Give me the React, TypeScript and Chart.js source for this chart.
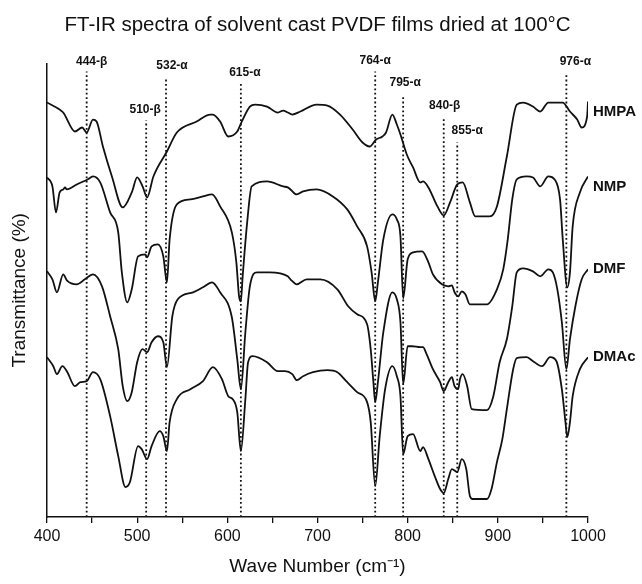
import React, { useEffect, useRef } from 'react';
import { Chart, registerables } from 'chart.js';

Chart.register(...registerables);

const TITLE = 'FT-IR spectra of solvent cast PVDF films dried at 100°C';
const X_TITLE = 'Wave Number (cm⁻¹)';
const Y_TITLE = 'Transmittance (%)';
const X_MIN = 400;
const X_MAX = 1000;
const X_TICKS = [400, 450, 500, 550, 600, 650, 700, 750, 800, 850, 900, 950, 1000];
const X_TICK_LABELS = ['400', '', '500', '', '600', '', '700', '', '800', '', '900', '', '1000'];
const Y_MIN = 0;
const Y_MAX = 454; // arbitrary transmittance units (offset spectra)

const SERIES_NAMES = ['HMPA', 'NMP', 'DMF', 'DMAc'];

const HMPA_WN = [400, 414, 418, 431, 439, 444, 451, 455, 462, 472, 484, 494, 500, 506, 511, 518, 533, 544, 566, 581, 584, 592, 601, 611, 616, 625, 631, 644, 656, 662, 667, 672, 681, 699, 711, 725, 739, 750, 758, 765, 772, 776, 783, 788, 792, 799, 806, 814, 817, 823, 833, 840, 847, 855, 861, 869, 875, 891, 899, 910, 921, 928, 939, 947, 956, 972, 980, 988, 993, 999, 1000];
const HMPA_T = [415, 408, 405, 386, 390, 385, 398, 396, 371, 341, 310, 325, 340, 331, 320, 341, 366, 385, 396, 403, 403, 396, 381, 386, 396, 411, 413, 411, 405, 407, 405, 403, 406, 413, 412, 403, 388, 375, 371, 378, 381, 385, 403, 393, 383, 363, 350, 335, 336, 330, 311, 302, 315, 333, 335, 315, 301, 301, 311, 361, 413, 415, 411, 406, 415, 415, 406, 398, 390, 401, 416];

const NMP_WN = [400, 406, 410, 414, 418, 420, 422, 433, 445, 451, 459, 470, 479, 483, 489, 494, 501, 509, 511, 516, 523, 529, 533, 536, 544, 559, 573, 583, 592, 605, 610, 613, 615, 617, 622, 627, 644, 662, 667, 670, 677, 684, 699, 717, 733, 744, 755, 760, 764, 767, 773, 783, 788, 792, 795, 800, 806, 816, 823, 828, 838, 845, 849, 852, 856, 860, 864, 869, 888, 899, 906, 911, 916, 921, 932, 939, 947, 956, 963, 969, 972, 977, 980, 983, 991, 1000];
const NMP_T = [340, 331, 305, 325, 328, 330, 328, 333, 338, 341, 335, 305, 285, 245, 215, 228, 261, 263, 260, 271, 273, 261, 235, 278, 313, 318, 321, 323, 311, 285, 255, 221, 216, 241, 295, 331, 336, 331, 330, 328, 323, 326, 328, 321, 308, 291, 271, 245, 216, 235, 278, 303, 298, 281, 219, 258, 265, 266, 255, 243, 233, 231, 232, 225, 221, 226, 223, 213, 213, 228, 248, 278, 318, 338, 341, 340, 331, 341, 338, 318, 278, 230, 245, 291, 325, 341];

const DMF_WN = [400, 406, 411, 418, 422, 433, 442, 451, 461, 470, 479, 484, 489, 494, 500, 506, 511, 516, 523, 529, 533, 539, 545, 562, 573, 583, 592, 605, 611, 615, 620, 625, 633, 647, 667, 670, 677, 688, 703, 722, 734, 744, 755, 759, 762, 764, 767, 773, 783, 788, 792, 795, 800, 805, 814, 817, 821, 828, 836, 840, 845, 849, 852, 856, 858, 861, 866, 871, 888, 895, 902, 910, 916, 921, 928, 939, 947, 956, 961, 966, 971, 976, 980, 986, 993, 1000];
const DMF_T = [246, 238, 225, 243, 237, 233, 238, 243, 231, 201, 168, 131, 116, 125, 155, 168, 165, 175, 181, 175, 150, 201, 218, 225, 230, 235, 225, 200, 158, 128, 185, 231, 245, 245, 241, 238, 233, 238, 238, 228, 211, 203, 193, 168, 135, 115, 135, 185, 225, 218, 195, 133, 171, 171, 170, 170, 163, 148, 135, 126, 135, 140, 131, 128, 138, 143, 131, 108, 107, 121, 155, 178, 211, 245, 249, 246, 241, 248, 245, 228, 195, 148, 178, 211, 238, 248];

const DMAC_WN = [400, 407, 411, 417, 422, 431, 437, 444, 451, 459, 470, 479, 487, 492, 501, 505, 511, 516, 525, 529, 533, 536, 544, 559, 573, 584, 594, 601, 606, 611, 615, 620, 623, 628, 644, 656, 664, 672, 677, 684, 695, 711, 722, 733, 744, 755, 759, 764, 769, 775, 783, 788, 792, 795, 800, 806, 814, 817, 823, 830, 836, 840, 845, 849, 855, 860, 865, 869, 872, 888, 893, 899, 905, 910, 917, 921, 932, 939, 949, 958, 965, 971, 975, 977, 980, 983, 991, 1000];
const DMAC_T = [160, 151, 143, 151, 146, 131, 135, 136, 145, 138, 101, 61, 30, 35, 71, 68, 58, 71, 86, 81, 66, 95, 118, 128, 136, 150, 138, 121, 118, 105, 66, 118, 155, 161, 155, 146, 146, 143, 137, 141, 145, 147, 145, 135, 125, 115, 95, 31, 81, 128, 151, 141, 121, 63, 81, 83, 66, 70, 58, 41, 28, 24, 38, 48, 45, 58, 48, 21, 18, 18, 28, 55, 78, 108, 148, 159, 160, 156, 151, 160, 156, 128, 95, 80, 95, 121, 148, 160];

const PEAK_WN = [444, 510, 532, 615, 764, 795, 840, 855, 976];
const PEAK_LABELS = ['444-β', '510-β', '532-α', '615-α', '764-α', '795-α', '840-β', '855-α', '976-α'];
const PEAK_LINE_TOP = [446, 397, 438, 435, 446, 423, 401, 375, 445];

// label placement (layout only)
const PEAK_LABEL_Y = [456, 408, 452, 445, 457, 435, 412, 387, 456];
const PEAK_LABEL_DX = [5, -1, 6, 4, 0, 2, 1, 10, 9];
const SERIES_LABEL_Y = [406, 331, 248, 160];

const FONT = '"Liberation Sans", Arial, Helvetica, sans-serif';
const INK = '#111111';

const toPoints = (xs: number[], ys: number[]) => xs.map((x, i) => ({ x, y: ys[i] }));

const labelPlugin = {
  id: 'ftirLabels',
  afterDatasetsDraw(chart: any) {
    const { ctx, chartArea, scales } = chart;
    const xs = scales.x;
    const ys = scales.y;
    ctx.save();
    ctx.fillStyle = INK;
    ctx.font = `bold 12px ${FONT}`;
    ctx.textAlign = 'center';
    ctx.textBaseline = 'middle';
    PEAK_WN.forEach((wn, i) => {
      ctx.fillText(PEAK_LABELS[i], xs.getPixelForValue(wn) + PEAK_LABEL_DX[i], ys.getPixelForValue(PEAK_LABEL_Y[i]));
    });
    ctx.font = `bold 15px ${FONT}`;
    ctx.textAlign = 'left';
    SERIES_NAMES.forEach((name, i) => {
      ctx.fillText(name, chartArea.right + 5, ys.getPixelForValue(SERIES_LABEL_Y[i]));
    });
    ctx.restore();
  },
};

export default function App() {
  const canvasRef = useRef<HTMLCanvasElement | null>(null);

  useEffect(() => {
    if (!canvasRef.current) return;
    const spectra = [
      [HMPA_WN, HMPA_T],
      [NMP_WN, NMP_T],
      [DMF_WN, DMF_T],
      [DMAC_WN, DMAC_T],
    ].map(([xs, ys], i) => ({
      label: SERIES_NAMES[i],
      data: toPoints(xs, ys),
      borderColor: INK,
      borderWidth: 1.8,
      pointRadius: 0,
      fill: false,
      cubicInterpolationMode: 'monotone' as const,
    }));
    const peakLines = PEAK_WN.map((wn, i) => ({
      label: PEAK_LABELS[i],
      data: [
        { x: wn, y: Y_MIN },
        { x: wn, y: PEAK_LINE_TOP[i] },
      ],
      borderColor: INK,
      borderWidth: 1.8,
      borderDash: [1.8, 2.6],
      pointRadius: 0,
      fill: false,
      tension: 0,
    }));

    const chart = new Chart(canvasRef.current, {
      type: 'line',
      data: { datasets: [...peakLines, ...spectra] },
      plugins: [labelPlugin],
      options: {
        animation: false,
        responsive: true,
        maintainAspectRatio: false,
        layout: { padding: { left: 0, right: 54, top: 0, bottom: 0 } },
        plugins: {
          legend: { display: false },
          tooltip: { enabled: false },
          title: {
            display: true,
            text: TITLE,
            color: INK,
            fullSize: false,
            font: { family: FONT, size: 20.5, weight: 'normal' },
            padding: { top: 13, bottom: 26 },
          },
        },
        scales: {
          x: {
            type: 'linear',
            min: X_MIN,
            max: X_MAX,
            afterBuildTicks: (scale: any) => {
              scale.ticks = X_TICKS.map((v) => ({ value: v }));
            },
            ticks: {
              autoSkip: false,
              maxRotation: 0,
              color: INK,
              padding: 4,
              font: { family: FONT, size: 16 },
              callback: (v: any) => {
                const idx = X_TICKS.indexOf(Number(v));
                return idx >= 0 ? X_TICK_LABELS[idx] : '';
              },
            },
            grid: {
              display: true,
              drawOnChartArea: false,
              drawTicks: true,
              tickLength: 6,
              color: INK,
              lineWidth: 1.3,
            },
            border: { display: true, color: INK, width: 1.5 },
            title: {
              display: true,
              text: X_TITLE,
              color: INK,
              font: { family: FONT, size: 19 },
              padding: { top: 5, bottom: 6 },
            },
          },
          y: {
            type: 'linear',
            min: Y_MIN,
            max: Y_MAX,
            ticks: { display: false },
            grid: { display: false, drawTicks: false },
            border: { display: true, color: INK, width: 1.5 },
            title: {
              display: true,
              text: Y_TITLE,
              color: INK,
              font: { family: FONT, size: 19 },
              padding: { top: 8, bottom: 17 },
            },
            afterFit: (scale: any) => {
              scale.width = 47;
            },
          },
        },
      },
    });
    return () => chart.destroy();
  }, []);

  return (
    <div style={{ position: 'fixed', left: 0, top: 0, width: 642, height: 584, background: '#fff' }}>
      <canvas ref={canvasRef} />
    </div>
  );
}
